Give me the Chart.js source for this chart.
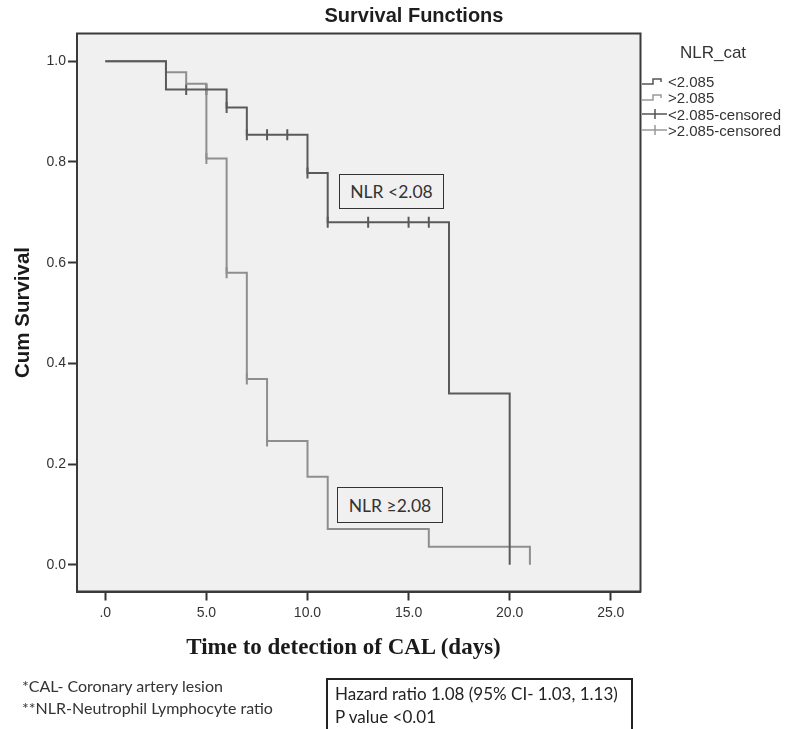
<!DOCTYPE html>
<html>
<head>
<meta charset="utf-8">
<script src="https://cdn.jsdelivr.net/npm/chart.js@4.4.1/dist/chart.umd.min.js"></script>
<style>
  html, body { margin: 0; padding: 0; background: #ffffff; }
  #wrap { position: relative; width: 787px; height: 729px; overflow: hidden; }
  canvas { position: absolute; left: 0; top: 0; }
  .abs { position: absolute; white-space: nowrap; color: #333; }
  #title { left: 0; width: 828px; top: 4px; line-height: 24px; text-align: center; font: bold 20px "Liberation Sans", Arial, sans-serif; color: #1e1e1e; }
  #xtitle { left: 0; width: 687px; top: 634px; line-height: 28px; text-align: center; font: bold 23px "Liberation Serif", "Times New Roman", serif; color: #1a1a1a; }
  #legTitle { left: 663px; width: 100px; top: 43px; line-height: 20px; text-align: center; font: 17px "Liberation Sans", Arial, sans-serif; }
  .legItem { left: 642px; height: 16px; line-height: 16px; font: 15px "Liberation Sans", Arial, sans-serif; display: flex; align-items: center; }
  .legItem svg { margin-right: 1px; }
  .ann { border: 1.5px solid #333; background: #f0f0f0; font: 17.5px Lato, "Open Sans", sans-serif; color: #333; display: flex; align-items: center; justify-content: center; box-sizing: border-box; }
  #foot { left: 22px; top: 675px; font: 16px Lato, "Open Sans", sans-serif; line-height: 22px; color: #333; }
  #hr { left: 326px; top: 678px; width: 307px; height: 70px; border: 2px solid #222; box-sizing: border-box; padding: 2px 0 0 7px; font: 17px Lato, "Open Sans", sans-serif; line-height: 23px; color: #222; }
</style>
</head>
<body>
<div id="wrap">
  <canvas id="c" width="787" height="729"></canvas>
  <div id="title" class="abs">Survival Functions</div>
  <div id="legTitle" class="abs">NLR_cat</div>
  <div class="abs legItem" style="top:73px"><svg width="25" height="12"><polyline points="0,9 11,9 11,4 19,4 19,7" fill="none" stroke="#555" stroke-width="1.5"/></svg>&lt;2.085</div>
  <div class="abs legItem" style="top:89px"><svg width="25" height="12"><polyline points="0,9 11,9 11,4 19,4 19,7" fill="none" stroke="#999" stroke-width="1.5"/></svg>&gt;2.085</div>
  <div class="abs legItem" style="top:106px"><svg width="25" height="12"><line x1="0" y1="6" x2="25" y2="6" stroke="#555" stroke-width="1.5"/><line x1="13" y1="1" x2="13" y2="11" stroke="#555" stroke-width="1.5"/></svg>&lt;2.085-censored</div>
  <div class="abs legItem" style="top:122px"><svg width="25" height="12"><line x1="0" y1="6" x2="25" y2="6" stroke="#999" stroke-width="1.5"/><line x1="13" y1="1" x2="13" y2="11" stroke="#999" stroke-width="1.5"/></svg>&gt;2.085-censored</div>
  <div class="abs ann" style="left:339px; top:174px; width:105px; height:35px;">NLR &lt;2.08</div>
  <div class="abs ann" style="left:337px; top:487px; width:106px; height:36px;">NLR ≥2.08</div>
  <div id="xtitle" class="abs">Time to detection of CAL (days)</div>
  <div id="foot" class="abs">*CAL- Coronary artery lesion<br>**NLR-Neutrophil Lymphocyte ratio</div>
  <div id="hr" class="abs">Hazard ratio 1.08 (95% CI- 1.03, 1.13)<br>P value &lt;0.01</div>
</div>
<script>
// ---- data ----
const timesLow = [0, 3, 6, 7, 10, 11, 17, 20];
const survLow  = [1.0, 0.944, 0.908, 0.854, 0.778, 0.680, 0.340, 0.0];
const timesHigh = [0, 3, 4, 5, 6, 7, 8, 10, 11, 16, 21];
const survHigh  = [1.0, 0.978, 0.955, 0.807, 0.580, 0.369, 0.246, 0.175, 0.071, 0.036, 0.0];
const censorTimesLow = [4, 5, 6, 7, 8, 9, 10, 11, 13, 15, 16];
const censorSurvLow  = [0.944, 0.944, 0.908, 0.854, 0.854, 0.854, 0.778, 0.680, 0.680, 0.680, 0.680];
const censorTimesHigh = [5, 6, 7, 8];
const censorSurvHigh  = [0.807, 0.580, 0.369, 0.246];
const xTickValues = [0, 5, 10, 15, 20, 25];
const yTickValues = [0, 0.2, 0.4, 0.6, 0.8, 1.0];
const groupLabels = ['<2.085', '>2.085', '<2.085-censored', '>2.085-censored'];

const darkColor = '#5a5a5a';
const lightColor = '#8e8e8e';

const toPoints = (xs, ys) => xs.map((x, i) => ({x: x, y: ys[i]}));

const plotFrame = {
  id: 'plotFrame',
  beforeDatasetsDraw(chart) {
    const {ctx, chartArea: a} = chart;
    ctx.save();
    ctx.fillStyle = '#f0f0f0';
    ctx.fillRect(a.left, a.top, a.right - a.left, a.bottom - a.top);
    ctx.restore();
  },
  afterDatasetsDraw(chart) {
    const {ctx, chartArea: a} = chart;
    ctx.save();
    ctx.strokeStyle = '#3a3a3a';
    ctx.lineWidth = 2;
    ctx.strokeRect(a.left, a.top, a.right - a.left, a.bottom - a.top);
    ctx.restore();
  }
};

new Chart(document.getElementById('c'), {
  type: 'scatter',
  data: {
    datasets: [
      { label: groupLabels[0], data: toPoints(timesLow, survLow), showLine: true, stepped: true,
        borderColor: darkColor, borderWidth: 2, pointRadius: 0, fill: false },
      { label: groupLabels[1], data: toPoints(timesHigh, survHigh), showLine: true, stepped: true,
        borderColor: lightColor, borderWidth: 2, pointRadius: 0, fill: false },
      { label: groupLabels[2], data: toPoints(censorTimesLow, censorSurvLow), showLine: false,
        pointStyle: 'line', rotation: 90, radius: 5.5, borderColor: darkColor, borderWidth: 2 },
      { label: groupLabels[3], data: toPoints(censorTimesHigh, censorSurvHigh), showLine: false,
        pointStyle: 'line', rotation: 90, radius: 5.5, borderColor: lightColor, borderWidth: 2 }
    ]
  },
  options: {
    responsive: false,
    animation: false,
    devicePixelRatio: 1,
    layout: { padding: { left: 0, right: 146.5, top: 33.5, bottom: 97.5 } },
    plugins: { legend: { display: false }, title: { display: false }, tooltip: { enabled: false } },
    scales: {
      x: {
        type: 'linear', min: -1.40, max: 26.47,
        afterBuildTicks: s => { s.ticks = xTickValues.map(v => ({value: v})); },
        afterFit: s => { s.height = 40; },
        ticks: { callback: v => v === 0 ? '.0' : v.toFixed(1), color: '#333',
                 font: { family: '"Liberation Sans", Arial, sans-serif', size: 14 }, padding: 4, maxRotation: 0, autoSkip: false },
        grid: { display: true, drawOnChartArea: false, drawTicks: true, tickLength: 9, tickColor: '#333', tickWidth: 2 },
        border: { display: true, color: '#3a3a3a', width: 2 }
      },
      y: {
        type: 'linear', min: -0.053, max: 1.055,
        afterBuildTicks: s => { s.ticks = yTickValues.map(v => ({value: v})); },
        afterFit: s => { s.width = 77; },
        ticks: { callback: v => v.toFixed(1), color: '#333',
                 font: { family: '"Liberation Sans", Arial, sans-serif', size: 14 }, padding: 2, autoSkip: false },
        grid: { display: true, drawOnChartArea: false, drawTicks: true, tickLength: 9, tickColor: '#333', tickWidth: 2 },
        border: { display: true, color: '#3a3a3a', width: 2 },
        title: { display: true, text: 'Cum Survival', color: '#1a1a1a',
                 font: { family: '"Liberation Sans", Arial, sans-serif', size: 20.5, weight: 'bold' },
                 padding: { top: 11, bottom: 0 } }
      }
    }
  },
  plugins: [plotFrame]
});
</script>
</body>
</html>
